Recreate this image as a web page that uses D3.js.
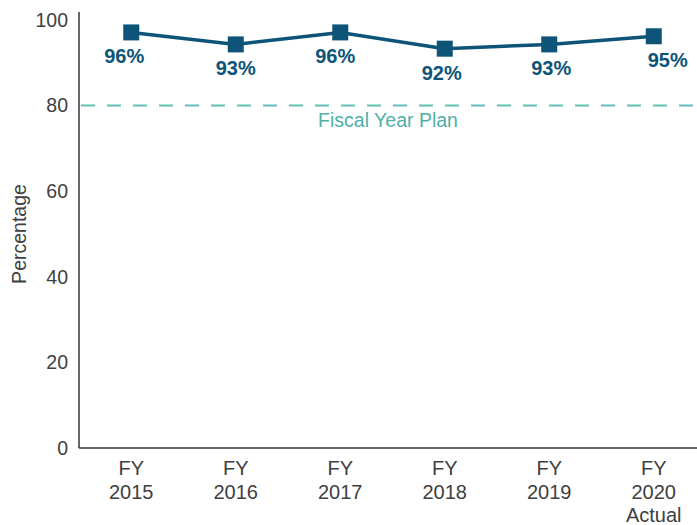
<!DOCTYPE html>
<html>
<head>
<meta charset="utf-8">
<script src="https://cdn.jsdelivr.net/npm/d3@7"></script>
<style>
  body { margin: 0; background: #fff; }
  svg { display: block; font-family: "Liberation Sans", Arial, sans-serif; }
</style>
</head>
<body>
<svg id="chart" width="697" height="525"></svg>
<script>
// data
const years = ['FY 2015', 'FY 2016', 'FY 2017', 'FY 2018', 'FY 2019', 'FY 2020 Actual'];
const plotted = [97.1, 94.3, 97.1, 93.3, 94.3, 96.2];
const labels = ['96%', '93%', '96%', '92%', '93%', '95%'];
const planValue = 80;
const planLabel = 'Fiscal Year Plan';
const yTicks = [0, 20, 40, 60, 80, 100];

const labelNudge = [-7, 0, -5, -3, 2, 14];

const svg = d3.select('#chart');
const plotLeft = 79, plotTop = 20, plotBottom = 448;

const x = d3.scalePoint()
    .domain(years)
    .range([plotLeft, 706])
    .padding(0.5);

const y = d3.scaleLinear()
    .domain([0, 100])
    .range([plotBottom, plotTop]);

const navy = '#0d5478', teal = '#63bfb6', grey = '#404040';

// axes
svg.append('line')
    .attr('x1', plotLeft).attr('x2', plotLeft)
    .attr('y1', 12).attr('y2', plotBottom)
    .attr('stroke', '#333').attr('stroke-width', 1.5);
svg.append('line')
    .attr('x1', plotLeft).attr('x2', 697)
    .attr('y1', plotBottom).attr('y2', plotBottom)
    .attr('stroke', '#333').attr('stroke-width', 1.5);

svg.append('g')
    .selectAll('text')
    .data(yTicks)
    .join('text')
    .attr('x', 68)
    .attr('y', d => y(d))
    .attr('dy', '0.35em')
    .attr('text-anchor', 'end')
    .attr('font-size', 19.5)
    .attr('fill', grey)
    .text(d => d);

const xl = svg.append('g')
    .selectAll('text')
    .data(years)
    .join('text')
    .attr('text-anchor', 'middle')
    .attr('font-size', 20)
    .attr('fill', grey);
xl.each(function (d) {
    const rows = d.split(' ');
    d3.select(this).selectAll('tspan')
        .data(rows)
        .join('tspan')
        .attr('x', x(d))
        .attr('y', (t, i) => 475 + i * 23.5)
        .text(t => t);
});

svg.append('text')
    .attr('transform', `translate(26,${234}) rotate(-90)`)
    .attr('text-anchor', 'middle')
    .attr('font-size', 19.5)
    .attr('fill', grey)
    .text('Percentage');

// plan line
svg.append('line')
    .attr('x1', plotLeft + 2).attr('x2', 697)
    .attr('y1', y(planValue)).attr('y2', y(planValue))
    .attr('stroke', teal)
    .attr('stroke-width', 2)
    .attr('stroke-dasharray', '14,12');
svg.append('text')
    .attr('x', 388)
    .attr('y', y(planValue) + 21.5)
    .attr('text-anchor', 'middle')
    .attr('font-size', 19.5)
    .attr('fill', '#4fb0a8')
    .text(planLabel);

// series
const line = d3.line()
    .x((d, i) => x(years[i]))
    .y(d => y(d));

svg.append('path')
    .datum(plotted)
    .attr('d', line)
    .attr('fill', 'none')
    .attr('stroke', navy)
    .attr('stroke-width', 3.5);

svg.append('g')
    .selectAll('rect')
    .data(plotted)
    .join('rect')
    .attr('x', (d, i) => x(years[i]) - 8)
    .attr('y', d => y(d) - 8)
    .attr('width', 16)
    .attr('height', 16)
    .attr('fill', navy);

svg.append('g')
    .selectAll('text')
    .data(plotted)
    .join('text')
    .attr('x', (d, i) => x(years[i]) + labelNudge[i])
    .attr('y', d => y(d) + 24)
    .attr('dy', '0.35em')
    .attr('text-anchor', 'middle')
    .attr('font-size', 20)
    .attr('font-weight', 'bold')
    .attr('fill', navy)
    .text((d, i) => labels[i]);
</script>
</body>
</html>
